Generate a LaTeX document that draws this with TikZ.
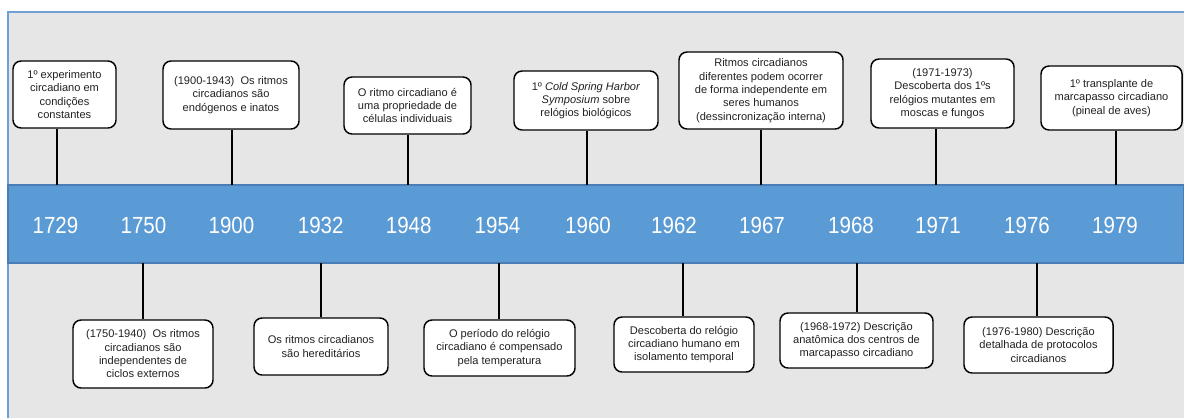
\documentclass[tikz,border=0pt]{standalone}
\usepackage{fontspec}
\setmainfont{Liberation Sans}
\newfontfamily\yearfont[FakeStretch=0.88]{Liberation Sans}
\definecolor{panelgrey}{HTML}{E7E6E6}
\definecolor{panelline}{HTML}{6F9FD3}
\definecolor{bandfill}{HTML}{5B9BD5}
\definecolor{bandline}{HTML}{4A7DB5}
\definecolor{boxtext}{HTML}{222222}
\tikzset{
  evbox/.style={draw=black, line width=1.1pt, rounded corners=6pt, fill=white, text=boxtext,
    align=center, inner sep=0pt, font=\fontsize{8.3}{10}\selectfont},
  yearlbl/.style={text=white, inner sep=0pt, font=\yearfont\fontsize{17.5}{20}\selectfont},
  stem/.style={draw=black, line width=1.5pt},
}
\begin{document}
\begin{tikzpicture}[x=0.75pt,y=-0.75pt]
\useasboundingbox (0,0) rectangle (1184,418);
\fill[white] (0,0) rectangle (1184,418);
\fill[panelgrey] (8,12) rectangle (1184,418);
\draw[panelline, line width=0.9pt] (8,418) -- (8,12) -- (1184,12);
\node[draw=bandline, line width=0.9pt, fill=bandfill, minimum width=882pt, minimum height=58.5pt, inner sep=0pt] (band) at (596,224) {};
% years
\node[yearlbl] (y1729) at (55.5,225) {1729};
\node[yearlbl] (y1750) at (143.5,225) {1750};
\node[yearlbl] (y1900) at (231.5,225) {1900};
\node[yearlbl] (y1932) at (320.7,225) {1932};
\node[yearlbl] (y1948) at (408.7,225) {1948};
\node[yearlbl] (y1954) at (497.5,225) {1954};
\node[yearlbl] (y1960) at (588,225) {1960};
\node[yearlbl] (y1962) at (674,225) {1962};
\node[yearlbl] (y1967) at (762,225) {1967};
\node[yearlbl] (y1968) at (851,225) {1968};
\node[yearlbl] (y1971) at (938,225) {1971};
\node[yearlbl] (y1976) at (1027,225) {1976};
\node[yearlbl] (y1979) at (1115,225) {1979};
% top boxes
\node[evbox, minimum width=77.25pt, minimum height=50.25pt] (b1729) at (64.5,94.5) {1º experimento\\circadiano em\\condições\\constantes};
\node[evbox, minimum width=102pt, minimum height=51pt] (b1900) at (231,95) {(1900-1943)\ \ Os ritmos\\circadianos são\\endógenos e inatos};
\node[evbox, minimum width=95.25pt, minimum height=42.75pt] (b1948) at (407.5,105.5) {O ritmo circadiano é\\uma propriedade de\\células individuais};
\node[evbox, minimum width=108pt, minimum height=44.25pt] (b1960) at (586,100.5) {1º \textit{Cold Spring Harbor}\\\textit{Symposium} sobre\\relógios biológicos};
\node[evbox, minimum width=123pt, minimum height=57.75pt] (b1967) at (761,90.5) {Ritmos circadianos\\diferentes podem ocorrer\\de forma independente em\\seres humanos\\(dessincronização interna)};
\node[evbox, minimum width=107.25pt, minimum height=51.75pt] (b1971) at (942.5,93.5) {(1971-1973)\\Descoberta dos 1ºs\\relógios mutantes em\\moscas e fungos};
\node[evbox, minimum width=105.75pt, minimum height=48pt] (b1979) at (1111.5,98) {1º transplante de\\marcapasso circadiano\\(pineal de aves)};
% bottom boxes
\node[evbox, minimum width=105pt, minimum height=51pt] (b1750) at (143,354) {(1750-1940)\ \ Os ritmos\\circadianos são\\independentes de\\ciclos externos};
\node[evbox, minimum width=100.5pt, minimum height=42.75pt] (b1932) at (321,346.5) {Os ritmos circadianos\\são hereditários};
\node[evbox, minimum width=113.25pt, minimum height=42pt] (b1954) at (499.5,348) {O período do relógio\\circadiano é compensado\\pela temperatura};
\node[evbox, minimum width=105pt, minimum height=41.25pt] (b1962) at (684,344.5) {Descoberta do relógio\\circadiano humano em\\isolamento temporal};
\node[evbox, minimum width=114.75pt, minimum height=41.25pt] (b1968) at (856.5,340.5) {(1968-1972) Descrição\\anatômica dos centros de\\marcapasso circadiano};
\node[evbox, minimum width=111.75pt, minimum height=42pt] (b1976) at (1038.5,345) {(1976-1980) Descrição\\detalhada de protocolos\\circadianos};
% stem anchor points on the band
\coordinate (t1729) at (57,185);
\coordinate (t1900) at (231.5,185);
\coordinate (t1948) at (408,185);
\coordinate (t1960) at (586.5,185);
\coordinate (t1967) at (761,185);
\coordinate (t1971) at (936,185);
\coordinate (t1979) at (1116,185);
\coordinate (t1750) at (143,263);
\coordinate (t1932) at (321,263);
\coordinate (t1954) at (499,263);
\coordinate (t1962) at (683,263);
\coordinate (t1968) at (856.7,263);
\coordinate (t1976) at (1037,263);
\foreach \n in {1729,1900,1948,1960,1967,1971,1979}{
  \draw[stem] (t\n) -- (t\n |- b\n.south);
}
\foreach \n in {1750,1932,1954,1962,1968,1976}{
  \draw[stem] (t\n) -- (t\n |- b\n.north);
}
\end{tikzpicture}
\end{document}
